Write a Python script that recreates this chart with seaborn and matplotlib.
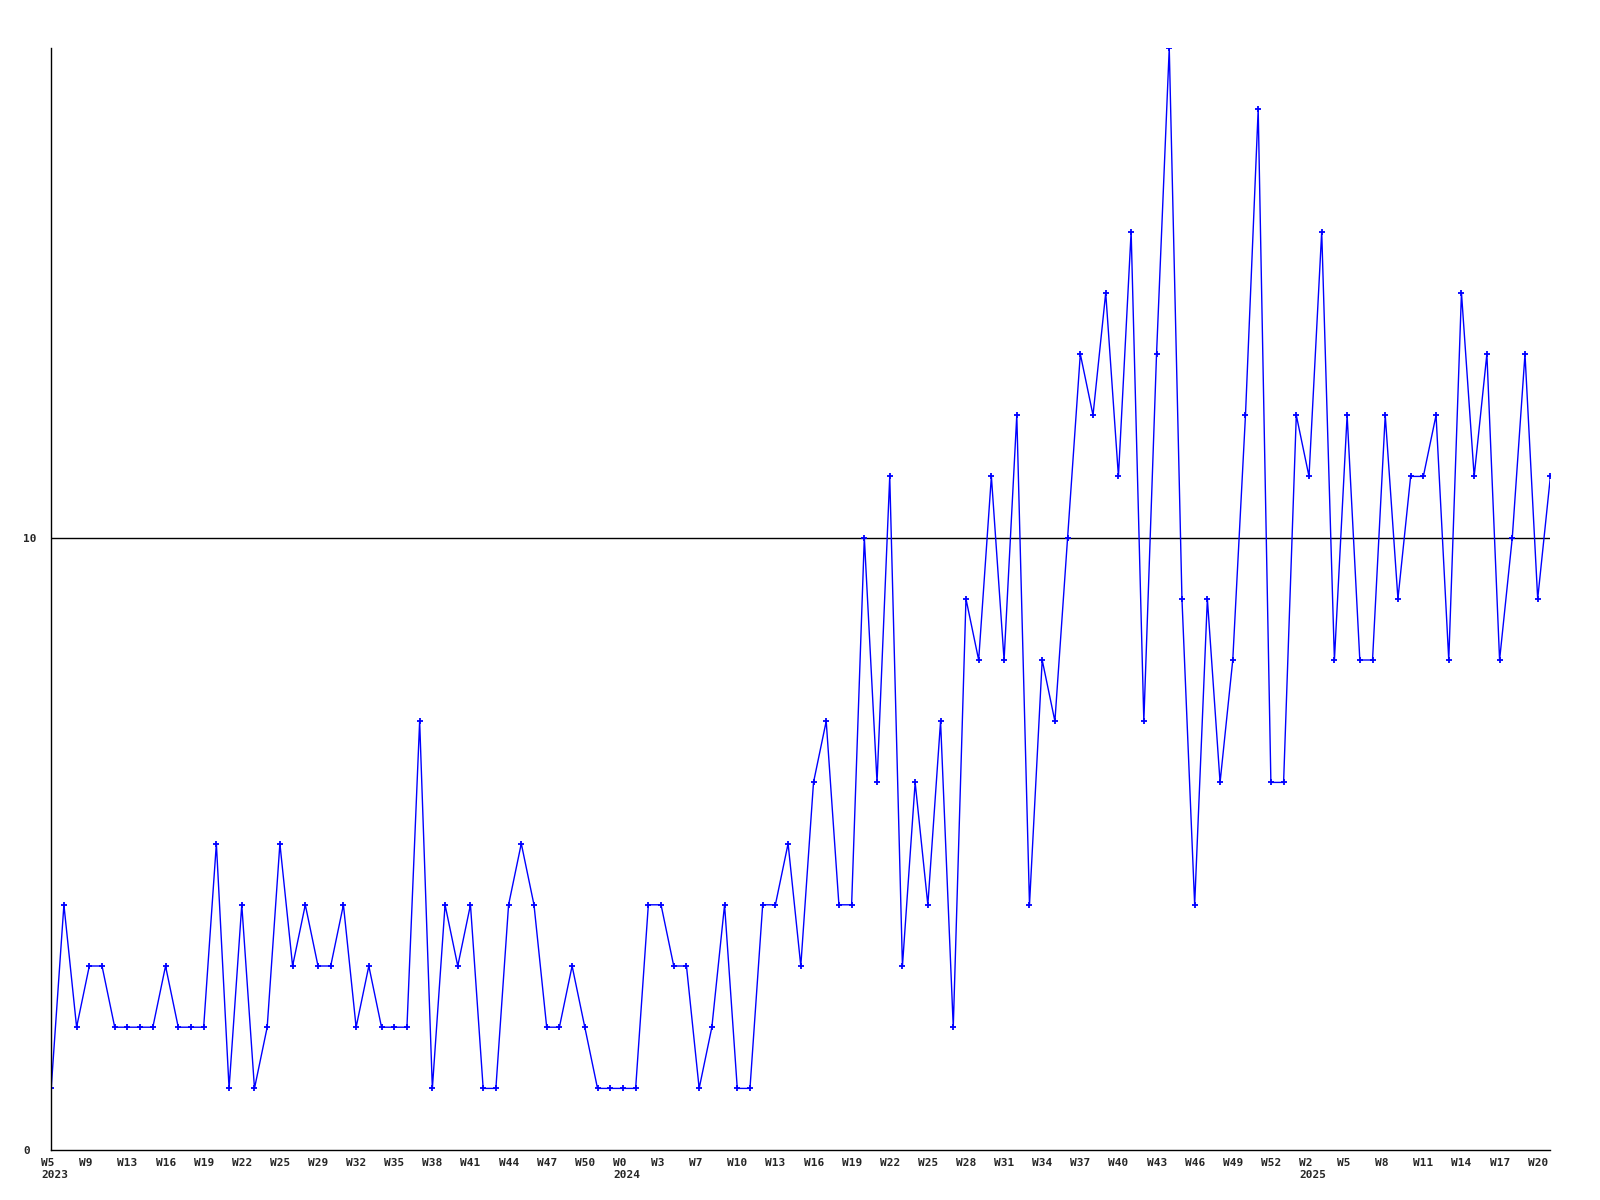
import matplotlib
matplotlib.use("Agg")
import matplotlib.pyplot as plt
import matplotlib.transforms as mtransforms
import seaborn as sns
import pandas as pd

# weekly counts, W5 2023 .. W21 2025
values = [1, 4, 2, 3, 3, 2, 2, 2, 2, 3, 2, 2, 2, 5, 1, 4, 1, 2, 5, 3,
          4, 3, 3, 4, 2, 3, 2, 2, 2, 7, 1, 4, 3, 4, 1, 1, 4, 5, 4, 2,
          2, 3, 2, 1, 1, 1, 1, 4, 4, 3, 3, 1, 2, 4, 1, 1, 4, 4, 5, 3,
          6, 7, 4, 4, 10, 6, 11, 3, 6, 4, 7, 2, 9, 8, 11, 8, 12, 4, 8, 7,
          10, 13, 12, 14, 11, 15, 7, 13, 18, 9, 4, 9, 6, 8, 12, 17, 6, 6, 12, 11,
          15, 8, 12, 8, 8, 12, 9, 11, 11, 12, 8, 14, 11, 13, 8, 10, 13, 9, 11]

tick_labels = ["W5\n2023", "W9", "W13", "W16", "W19", "W22", "W25", "W29", "W32", "W35",
               "W38", "W41", "W44", "W47", "W50",
               "W0\n2024", "W3", "W7", "W10", "W13", "W16", "W19", "W22", "W25", "W28",
               "W31", "W34", "W37", "W40", "W43", "W46", "W49", "W52",
               "W2\n2025", "W5", "W8", "W11", "W14", "W17", "W20"]

df = pd.DataFrame({"week": range(len(values)), "count": values})

sns.set_style("white")
plt.rcParams['font.family'] = ['DejaVu Sans Mono']

fig = plt.figure(figsize=(16, 12), dpi=100)
ax = fig.add_axes([0.032, 0.042, 0.937, 0.918])

sns.lineplot(data=df, x="week", y="count", color="#0000ff", linewidth=1,
             marker="+", markersize=4, markeredgewidth=1.3, markeredgecolor="#0000ff", ax=ax)
ax.axhline(10, color="black", linewidth=1, zorder=0)

ax.set_xlim(0, len(values) - 1)
ax.set_ylim(0, 18)
ax.set_yticks([0, 10])
ax.set_yticklabels(["0", "10"], fontsize=8, fontweight="bold")
ax.set_xticks(range(0, len(values), 3))
ax.set_xticklabels(tick_labels, fontsize=8, fontweight="bold", linespacing=1.3, va="top")
ax.tick_params(axis="x", length=0, pad=6)
ax.tick_params(axis="y", length=0, pad=20)

# labels are left aligned, starting a little before each point
shift = mtransforms.ScaledTranslation(-10 / 100, 0, fig.dpi_scale_trans)
for lab in ax.get_xticklabels():
    lab.set_horizontalalignment("left")
    lab.set_multialignment("left")
    lab.set_transform(lab.get_transform() + shift)
for lab in ax.get_yticklabels():
    lab.set_horizontalalignment("left")

ax.set_xlabel("")
ax.set_ylabel("")
sns.despine(ax=ax)
for s in ["left", "bottom"]:
    ax.spines[s].set_color("black")
    ax.spines[s].set_linewidth(1)

fig.savefig("out.png", dpi=100)
